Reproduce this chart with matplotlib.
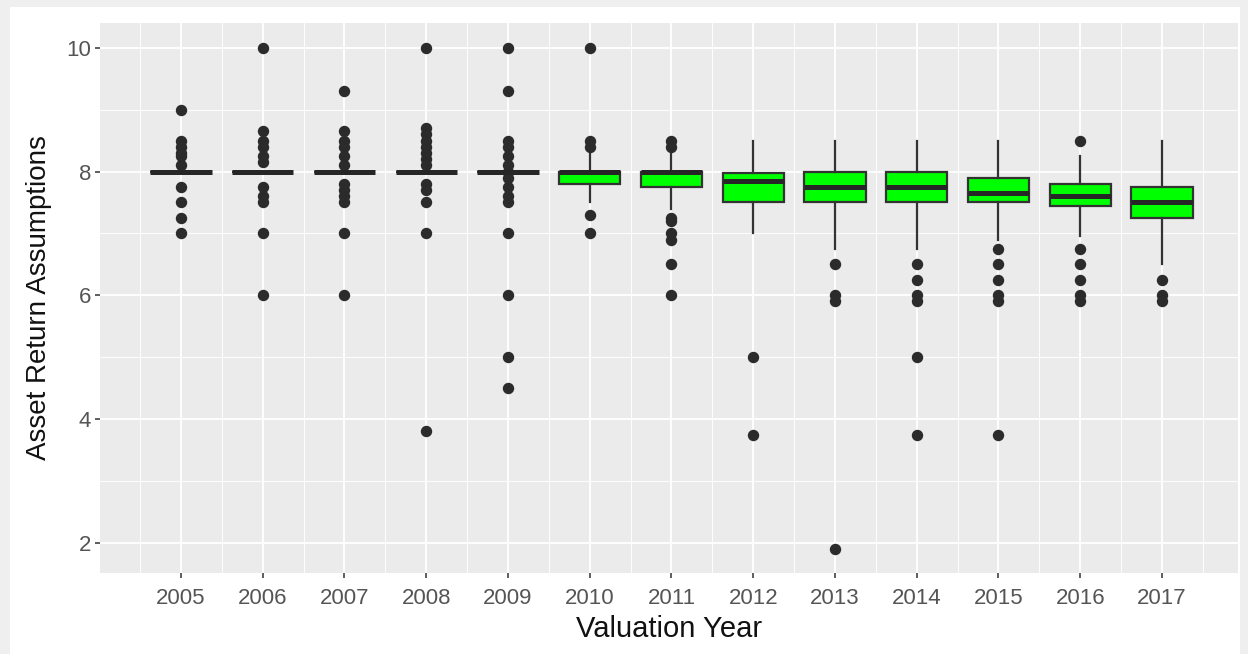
import matplotlib
matplotlib.use("Agg")
import matplotlib.pyplot as plt
from matplotlib.patches import Rectangle

# values
years = [2005, 2006, 2007, 2008, 2009, 2010, 2011, 2012, 2013, 2014, 2015, 2016, 2017]
medians = [8.0, 8.0, 8.0, 8.0, 8.0, 8.0, 8.0, 7.85, 7.75, 7.75, 7.65, 7.6, 7.5]
q1 = [8.0, 8.0, 8.0, 8.0, 8.0, 7.8, 7.75, 7.5, 7.5, 7.5, 7.5, 7.45, 7.25]
q3 = [8.0, 8.0, 8.0, 8.0, 8.0, 8.0, 8.0, 7.97, 8.0, 8.0, 7.9, 7.8, 7.75]
whisker_low = [8.0, 8.0, 8.0, 8.0, 8.0, 7.5, 7.4, 7.0, 6.75, 6.75, 6.9, 6.95, 6.5]
whisker_high = [8.0, 8.0, 8.0, 8.0, 8.0, 8.3, 8.3, 8.5, 8.5, 8.5, 8.5, 8.25, 8.5]
outliers = [
    [9.0, 8.5, 8.4, 8.3, 8.25, 8.1, 7.75, 7.5, 7.25, 7.0],
    [10.0, 8.65, 8.5, 8.4, 8.25, 8.15, 7.75, 7.6, 7.5, 7.0, 6.0],
    [9.3, 8.65, 8.5, 8.4, 8.25, 8.1, 7.8, 7.7, 7.6, 7.5, 7.0, 6.0],
    [10.0, 8.7, 8.6, 8.5, 8.4, 8.3, 8.2, 8.1, 7.8, 7.7, 7.5, 7.0, 3.8],
    [10.0, 9.3, 8.5, 8.4, 8.25, 8.1, 8.0, 7.9, 7.75, 7.6, 7.5, 7.0, 6.0, 5.0, 4.5],
    [10.0, 8.5, 8.4, 7.3, 7.0],
    [8.5, 8.4, 7.25, 7.2, 7.0, 6.9, 6.5, 6.0],
    [5.0, 3.75],
    [6.5, 6.0, 5.9, 1.9],
    [6.5, 6.25, 6.0, 5.9, 5.0, 3.75],
    [6.75, 6.5, 6.25, 6.0, 5.9, 3.75],
    [8.5, 6.75, 6.5, 6.25, 6.0, 5.9],
    [6.25, 6.0, 5.9],
]

plt.rcParams["font.family"] = ["Liberation Sans", "DejaVu Sans"]

fig = plt.figure(figsize=(12.48, 6.54), dpi=100, facecolor="#efefef")
fig.patches.append(Rectangle((10 / 1248, 0), 1230 / 1248, 647 / 654,
                             transform=fig.transFigure, facecolor="white",
                             edgecolor="none", zorder=-10))

ax = fig.add_axes([100 / 1248, 1 - 572.5 / 654, 1138 / 1248, 549.5 / 654])
ax.set_facecolor("#ebebeb")

stats = []
for i, y in enumerate(years):
    stats.append({"med": medians[i], "q1": q1[i], "q3": q3[i],
                  "whislo": whisker_low[i], "whishi": whisker_high[i],
                  "fliers": outliers[i], "label": str(y)})

positions = list(range(1, len(years) + 1))
ax.bxp(stats, positions=positions, widths=0.75, patch_artist=True,
       showcaps=False,
       boxprops=dict(facecolor="#00ff00", edgecolor="#333333", linewidth=1.6),
       whiskerprops=dict(color="#333333", linewidth=1.6),
       medianprops=dict(color="#262626", linewidth=3.6, solid_capstyle="butt"),
       flierprops=dict(marker="o", markerfacecolor="#2b2b2b",
                       markeredgecolor="#2b2b2b", markersize=7.2))

ax.set_xlim(0.01, 13.93)
ax.set_ylim(1.52, 10.40)
ax.set_xticks(positions)
ax.set_xticklabels([str(y) for y in years])
ax.set_xticks([p + 0.5 for p in range(0, len(years) + 1)], minor=True)
ax.set_yticks([2, 4, 6, 8, 10])
ax.set_yticks([3, 5, 7, 9], minor=True)

ax.grid(which="major", color="white", linewidth=1.3)
ax.grid(which="minor", color="white", linewidth=0.65)
ax.set_axisbelow(True)
for s in ax.spines.values():
    s.set_visible(False)

ax.tick_params(which="major", length=3.5, width=1.1, color="#333333",
               labelcolor="#555555", labelsize=16)
ax.tick_params(axis="x", pad=8)
ax.tick_params(axis="y", pad=3)
ax.tick_params(which="minor", length=0)

ax.set_xlabel("Valuation Year", fontsize=21, color="#111111", labelpad=4)
ax.set_ylabel("Asset Return Assumptions", fontsize=20, color="#111111", labelpad=10)

fig.savefig("out.png", dpi=100, facecolor=fig.get_facecolor())
